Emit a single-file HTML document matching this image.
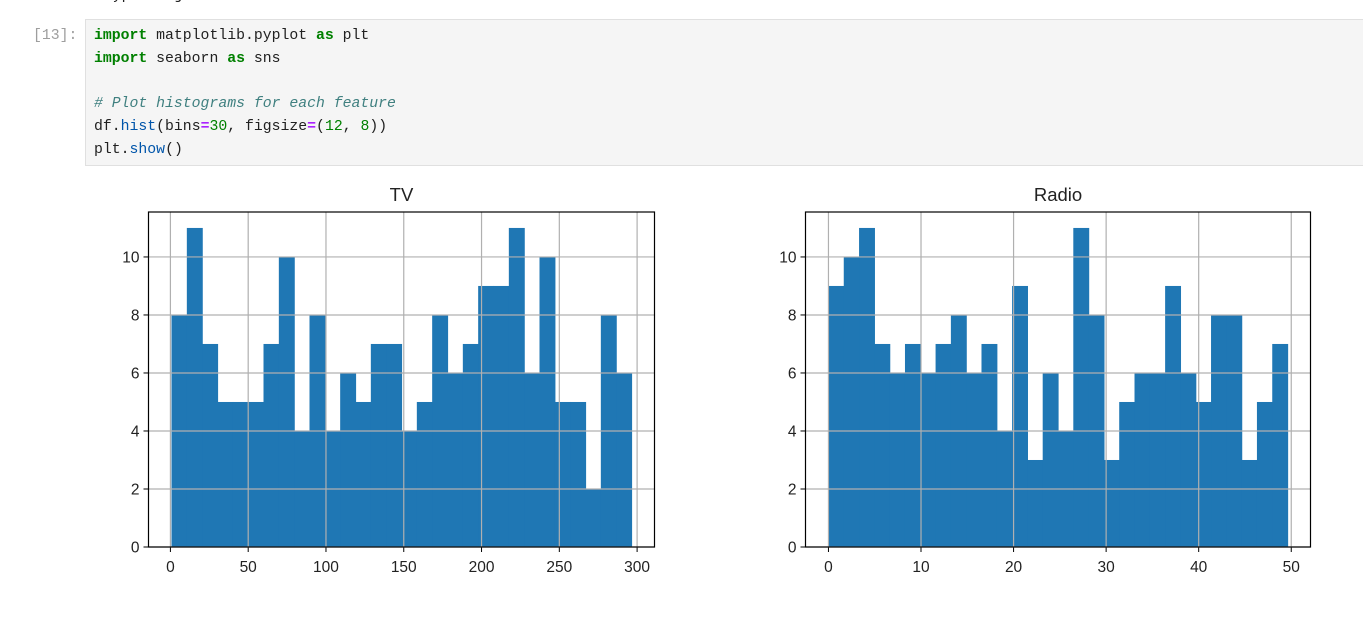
<!DOCTYPE html>
<html><head><meta charset="utf-8"><style>
body{margin:0;width:1363px;height:617px;background:#fff;overflow:hidden;position:relative;font-family:"Liberation Sans",sans-serif}
.code{position:absolute;left:85px;top:19px;width:1290px;height:147px;background:#f5f5f5;border:1px solid #e0e0e0;box-sizing:border-box}
.ln{position:absolute;left:8px;font-family:"Liberation Mono","DejaVu Sans Mono",monospace;font-size:14.8px;color:#212121;white-space:pre}
.k{color:#008000;font-weight:bold}.c{color:#408080;font-style:italic}.n{color:#008000}.o{color:#aa22ff;font-weight:bold}.f{color:#0055aa}
.prompt{position:absolute;left:33px;top:28px;font-family:"Liberation Mono",monospace;font-size:14.8px;color:#9e9e9e}
.top{position:absolute;left:95px;top:-12px;font-family:"Liberation Mono",monospace;font-size:14.8px;color:#212121}
</style></head><body>
<div class="top">dtype: object</div>
<div class="prompt">[13]:</div>
<div class="code">
<div class="ln" style="top:8px"><span class="k">import</span> matplotlib.pyplot <span class="k">as</span> plt</div>
<div class="ln" style="top:31px"><span class="k">import</span> seaborn <span class="k">as</span> sns</div>
<div class="ln" style="top:76px"><span class="c"># Plot histograms for each feature</span></div>
<div class="ln" style="top:99px">df.<span class="f">hist</span>(bins<span class="o">=</span><span class="n">30</span>, figsize<span class="o">=</span>(<span class="n">12</span>, <span class="n">8</span>))</div>
<div class="ln" style="top:122px">plt.<span class="f">show</span>()</div>
</div>
<svg id="fig" width="1363" height="617" style="position:absolute;left:0;top:0"></svg>
<script>
const tvCounts=[8,11,7,5,5,5,7,10,4,8,4,6,5,7,7,4,5,8,6,7,9,9,11,6,10,5,5,2,8,6];
const tvRange=[0.7,296.4];
const tvXTicks=[0,50,100,150,200,250,300];
const radioCounts=[9,10,11,7,6,7,6,7,8,6,7,4,9,3,6,4,11,8,3,5,6,6,9,6,5,8,8,3,5,7];
const radioRange=[0.0,49.6];
const radioXTicks=[0,10,20,30,40,50];
const yTicks=[0,2,4,6,8,10];
const titles=["TV","Radio"];

const svg=document.getElementById('fig');
const NS='http://www.w3.org/2000/svg';
function mk(t,a){const e=document.createElementNS(NS,t);for(const k in a)e.setAttribute(k,a[k]);svg.appendChild(e);return e;}
function panel(L,R,title,counts,range,xt,key){
  const T=212,B=547;
  const lo=range[0],hi=range[1],pad=(hi-lo)*0.05;
  const x0=lo-pad,x1=hi+pad;
  const X=v=>L+(v-x0)/(x1-x0)*(R-L);
  const ymax=Math.max(...counts)*1.05;
  const Y=v=>B-v/ymax*(B-T);
  const w=(hi-lo)/counts.length;
  counts.forEach((c,i)=>{
    const r=mk('rect',{x:X(lo+i*w),y:Y(c),width:X(lo+(i+1)*w)-X(lo+i*w)+0.6,height:B-Y(c),fill:'#1f77b4'});
    
    
  });
  xt.forEach(t=>{
    const x=X(t);
    const g=mk('line',{x1:x,x2:x,y1:T,y2:B,stroke:'#b0b0b0','stroke-width':1.2});
    
    
    mk('line',{x1:x,x2:x,y1:B,y2:B+5,stroke:'#000','stroke-width':1});
    const tx=mk('text',{x:x,y:B+25,'text-anchor':'middle','font-size':'15.5',fill:'#222','font-family':'Liberation Sans, DejaVu Sans, sans-serif'});
    tx.textContent=t;
    
    
  });
  yTicks.forEach(t=>{
    const y=Y(t);
    const g=mk('line',{x1:L,x2:R,y1:y,y2:y,stroke:'#b0b0b0','stroke-width':1.2});
    
    
    mk('line',{x1:L-5,x2:L,y1:y,y2:y,stroke:'#000','stroke-width':1});
    const tx=mk('text',{x:L-9,y:y+5.5,'text-anchor':'end','font-size':'15.5',fill:'#222','font-family':'Liberation Sans, DejaVu Sans, sans-serif'});
    tx.textContent=t;
    
    
  });
  const f=mk('rect',{x:L,y:T,width:R-L,height:B-T,fill:'none',stroke:'#000','stroke-width':1.2});
  
  
  const tt=mk('text',{x:(L+R)/2,y:T-11,'text-anchor':'middle','font-size':'18.5',fill:'#222','font-family':'Liberation Sans, DejaVu Sans, sans-serif'});
  tt.textContent=title;
  
  
}
panel(148.5,654.5,titles[0],tvCounts,tvRange,tvXTicks,'tv');
panel(805.5,1310.5,titles[1],radioCounts,radioRange,radioXTicks,'radio');
</script>
</body></html>
